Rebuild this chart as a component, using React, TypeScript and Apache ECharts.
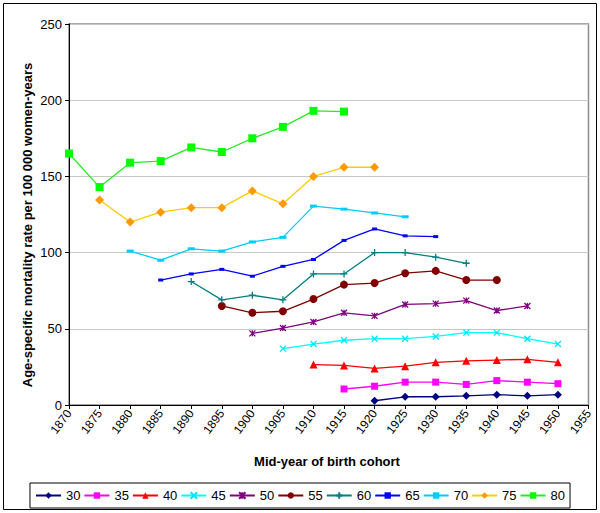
import React, { useEffect, useRef } from "react";
import * as echarts from "echarts";

const years = [
  "1870", "1875", "1880", "1885", "1890", "1895", "1900", "1905", "1910",
  "1915", "1920", "1925", "1930", "1935", "1940", "1945", "1950", "1955",
];

const _ = null;
// values indexed by the years above
const s30 = [_, _, _, _, _, _, _, _, _, _, 2.8, 5.4, 5.4, 6, 6.8, 6, 6.8, _];
const s35 = [_, _, _, _, _, _, _, _, _, 10.5, 12.3, 15, 15, 13.5, 16, 15, 14, _];
const s40 = [_, _, _, _, _, _, _, _, 26.5, 26, 24, 25.5, 28, 29, 29.5, 30, 28, _];
const s45 = [_, _, _, _, _, _, _, 37, 40, 42.5, 43.5, 43.5, 45, 47.5, 47.5, 43.5, 40, _];
const s50 = [_, _, _, _, _, _, 47, 50.5, 54.5, 60.5, 58.5, 66, 66.5, 68.5, 62, 65, _, _];
const s55 = [_, _, _, _, _, 65, 60.5, 61.5, 69.5, 79, 80, 86.5, 88, 82, 82, _, _, _];
const s60 = [_, _, _, _, 81, 69, 72, 69, 86, 86, 100, 100, 97, 93, _, _, _, _];
const s65 = [_, _, _, 82, 86, 89, 84.5, 91, 95.5, 108, 115.5, 111, 110.5, _, _, _, _, _];
const s70 = [_, _, 101, 95, 102.5, 101, 107, 110, 130.5, 128.5, 126, 123.5, _, _, _, _, _, _];
const s75 = [_, 134.5, 120, 126.5, 129.5, 129.5, 140.5, 132, 150, 156, 156, _, _, _, _, _, _, _];
const s80 = [165, 143, 159, 160, 169, 166, 175, 182.5, 193, 192.5, _, _, _, _, _, _, _, _];

const yTicks = { min: 0, max: 250, interval: 50 };

const FONT = "Liberation Sans, Arial, sans-serif";

const X_PATH = "path://M0 0L10 10M10 0L0 10";
const STAR_PATH = "path://M0 0L10 10M10 0L0 10M5 0L5 10";
const PLUS_PATH = "path://M0 5L10 5M5 0L5 10";

type Def = {
  name: string;
  data: (number | null)[];
  line: string;
  marker: string;
  symbol: string;
  size: number | number[];
  stroke?: number;
};

const defs: Def[] = [
  { name: "30", data: s30, line: "#000080", marker: "#000080", symbol: "diamond", size: 8 },
  { name: "35", data: s35, line: "#FF00FF", marker: "#FF00FF", symbol: "rect", size: 7 },
  { name: "40", data: s40, line: "#FF0000", marker: "#FF0000", symbol: "triangle", size: 8 },
  { name: "45", data: s45, line: "#00FFFF", marker: "#00E5FF", symbol: X_PATH, size: 6, stroke: 1.3 },
  { name: "50", data: s50, line: "#800080", marker: "#800080", symbol: STAR_PATH, size: 6, stroke: 1.3 },
  { name: "55", data: s55, line: "#800000", marker: "#800000", symbol: "circle", size: 8 },
  { name: "60", data: s60, line: "#008080", marker: "#008080", symbol: PLUS_PATH, size: 7, stroke: 1.3 },
  { name: "65", data: s65, line: "#0000FF", marker: "#0000FF", symbol: "rect", size: [5, 3] },
  { name: "70", data: s70, line: "#00CCFF", marker: "#00CCFF", symbol: "rect", size: [7, 3] },
  { name: "75", data: s75, line: "#FFCC00", marker: "#FF9900", symbol: "diamond", size: 9 },
  { name: "80", data: s80, line: "#22EE22", marker: "#00FF00", symbol: "rect", size: 8 },
];

export default function App() {
  const ref = useRef<HTMLDivElement>(null);
  useEffect(() => {
    document.body.style.margin = "0";
    if (!ref.current) return;
    const chart = echarts.init(ref.current, undefined, { renderer: "svg" });
    const plotLeft = 69;
    const plotTop = 24;
    const plotRight = 588.5;
    const plotBottom = 405;
    chart.setOption({
      animation: false,
      backgroundColor: "#ffffff",
      textStyle: { fontFamily: FONT },
      grid: {
        left: plotLeft,
        top: plotTop,
        right: 600 - plotRight,
        bottom: 513 - plotBottom,
        containLabel: false,
      },
      xAxis: {
        type: "category",
        data: years,
        boundaryGap: false,
        axisLine: { show: true, lineStyle: { color: "#000", width: 1 } },
        axisTick: { show: true, inside: false, length: 4, lineStyle: { color: "#000" } },
        axisLabel: {
          rotate: 53,
          margin: 6,
          interval: 0,
          color: "#000",
          fontSize: 12,
          fontFamily: FONT,
        },
        splitLine: { show: false },
      },
      yAxis: {
        type: "value",
        min: yTicks.min,
        max: yTicks.max,
        interval: yTicks.interval,
        axisLine: { show: true, lineStyle: { color: "#000", width: 1 } },
        axisTick: { show: true, length: 4, lineStyle: { color: "#000" } },
        axisLabel: { color: "#000", fontSize: 13, fontFamily: FONT, margin: 7 },
        splitLine: { show: true, lineStyle: { color: "#c8c8c8", width: 1 } },
      },
      legend: {
        show: true,
        left: "center",
        top: 483,
        orient: "horizontal",
        itemWidth: 25,
        itemHeight: 8,
        itemGap: 3,
        padding: [6, 5],
        borderColor: "#000",
        borderWidth: 1,
        textStyle: { color: "#000", fontSize: 13, fontFamily: FONT },
        data: defs.map((d) => d.name),
      },
      graphic: [
        {
          type: "rect",
          z: -10,
          silent: true,
          shape: { x: 3.5, y: 3.5, width: 593, height: 506 },
          style: { fill: "none", stroke: "#000", lineWidth: 1 },
        },
        {
          type: "rect",
          z: -5,
          silent: true,
          shape: {
            x: plotLeft,
            y: plotTop,
            width: plotRight - plotLeft,
            height: plotBottom - plotTop,
          },
          style: { fill: "none", stroke: "#8c8c8c", lineWidth: 1.5 },
        },
        {
          type: "text",
          x: 27,
          y: 225,
          rotation: Math.PI / 2,
          silent: true,
          style: {
            text: "Age-specific mortality rate per 100 000 women-years",
            fontSize: 13,
            fontWeight: "bold",
            fontFamily: FONT,
            fill: "#000",
            textAlign: "center",
            textVerticalAlign: "middle",
          },
        },
        {
          type: "text",
          x: 327,
          y: 461,
          silent: true,
          style: {
            text: "Mid-year of birth cohort",
            fontSize: 13,
            fontWeight: "bold",
            fontFamily: FONT,
            fill: "#000",
            textAlign: "center",
            textVerticalAlign: "middle",
          },
        },
      ],
      series: defs.map((d) => ({
        name: d.name,
        type: "line",
        data: d.data,
        symbol: d.symbol,
        symbolSize: d.size,
        showSymbol: true,
        connectNulls: false,
        lineStyle: { color: d.line, width: 1.3 },
        itemStyle: {
          color: d.marker,
          borderColor: d.marker,
          borderWidth: d.stroke ?? 0,
        },
        emphasis: { disabled: true },
      })),
    });
    return () => chart.dispose();
  }, []);
  return <div ref={ref} style={{ width: 600, height: 513 }} />;
}
